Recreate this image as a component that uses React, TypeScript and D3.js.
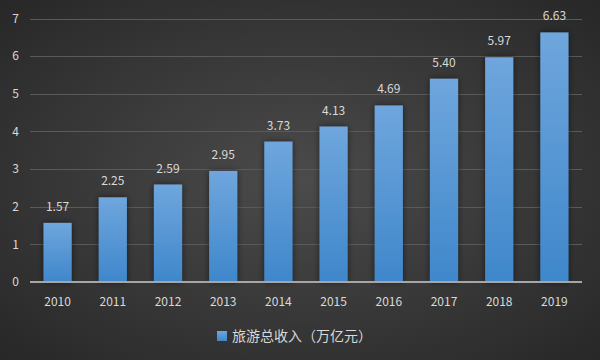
import React from 'react';
import * as d3 from 'd3';

const years = ['2010', '2011', '2012', '2013', '2014', '2015', '2016', '2017', '2018', '2019'];
const revenue = [1.57, 2.25, 2.59, 2.95, 3.73, 4.13, 4.69, 5.40, 5.97, 6.63];
const yTicks = [0, 1, 2, 3, 4, 5, 6, 7];
const seriesName = '旅游总收入（万亿元）';

const width = 600;
const height = 360;
const marginTop = 18;
const marginRight = 18;
const marginBottom = 78;
const marginLeft = 30;
const font = '"Noto Sans CJK SC", "Noto Sans", sans-serif';
const textColor = '#d9d9d9';

export default function App() {
  const x = d3.scaleBand<string>()
    .domain(years)
    .range([marginLeft, width - marginRight])
    .paddingInner(0.49)
    .paddingOuter(0.245);
  const y = d3.scaleLinear([0, 7], [height - marginBottom, marginTop + 0.5]);

  return (
    <svg width={width} height={height} style={{ position: 'absolute', left: 0, top: 0 }}>
      <defs>
        <radialGradient id="bg" cx="0.5" cy="0.5" r="0.75">
          <stop offset="0" stopColor="#4b4b4b" />
          <stop offset="1" stopColor="#252525" />
        </radialGradient>
        <linearGradient id="bar" x1="0" y1="0" x2="0" y2="1">
          <stop offset="0" stopColor="#6fa6dd" />
          <stop offset="1" stopColor="#3f87cb" />
        </linearGradient>
        <filter id="shadow" x="-50%" y="-10%" width="200%" height="120%">
          <feDropShadow dx="0" dy="0" stdDeviation="3" floodColor="#000" floodOpacity="0.55" />
        </filter>
      </defs>
      <rect width={width} height={height} fill="url(#bg)" />
      {yTicks.map(t => (
        <g key={t}>
          {t > 0 && (
            <line x1={marginLeft} x2={width - marginRight} y1={Math.round(y(t)) + 0.5} y2={Math.round(y(t)) + 0.5}
              stroke="#5a5a5a" strokeWidth={1} />
          )}
          <text x={19} y={y(t)} dy="0.35em" textAnchor="end" fill={textColor}
            fontFamily={font} fontSize={12}>{t}</text>
        </g>
      ))}
      {years.map((yr, i) => (
        <g key={yr}>
          <rect x={x(yr)} y={y(revenue[i])} width={x.bandwidth()} height={y(0) - y(revenue[i])}
            fill="url(#bar)" filter="url(#shadow)" />
          <text x={x(yr)! + x.bandwidth() / 2} y={y(revenue[i]) - 12} textAnchor="middle"
            fill={textColor} fontFamily={font} fontSize={12}>{revenue[i].toFixed(2)}</text>
          <text x={x(yr)! + x.bandwidth() / 2} y={y(0) + 24} textAnchor="middle"
            fill={textColor} fontFamily={font} fontSize={12}>{yr}</text>
        </g>
      ))}
      <line x1={marginLeft} x2={width - marginRight} y1={y(0)} y2={y(0)} stroke="#a6a6a6" strokeWidth={2} />
      <rect x={217} y={331} width={10} height={10} fill="url(#bar)" />
      <text x={232} y={336} dy="0.35em" fill={textColor} fontFamily={font} fontSize={14}>{seriesName}</text>
    </svg>
  );
}
